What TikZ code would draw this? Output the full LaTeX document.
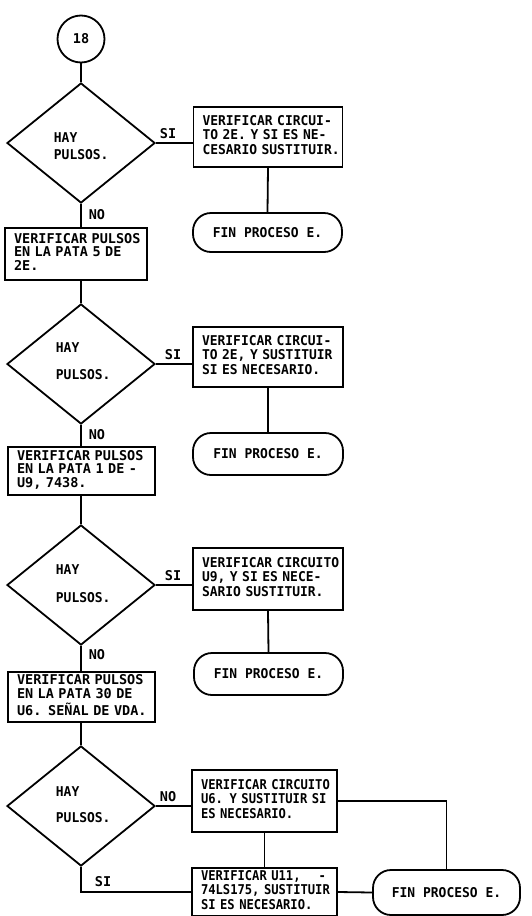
\documentclass[tikz,border=0pt]{standalone}
\usepackage{fontspec}
\newfontfamily\plotfont{DejaVu Sans Mono}
\newfontfamily\plotmid{DejaVu Sans Mono}[FakeStretch=0.96]
\newfontfamily\plotnarrow{DejaVu Sans Mono}[FakeStretch=0.9]
\usetikzlibrary{shapes.geometric}
% lines of a box text, never wrapped
\newcommand\boxlines[1]{\begin{tabular}{@{}l@{}}#1\end{tabular}}
\begin{document}
\begin{tikzpicture}[x=1pt,y=-1pt,line width=1.8pt,
  txt/.style={font=\plotfont\bfseries\fontsize{13.5}{13.5}\selectfont},
  mid/.style={font=\plotmid\bfseries\fontsize{13.5}{13.5}\selectfont},
  narrow/.style={font=\plotnarrow\bfseries\fontsize{13.5}{13.5}\selectfont},
  box/.style={txt,draw,rectangle,inner xsep=9pt,inner ysep=0pt,align=left},
  term/.style={mid,draw,rectangle,rounded corners=18pt,inner sep=0pt},
  dec/.style={draw,diamond,inner sep=0pt,minimum width=148pt,minimum height=120pt},
  dectext/.style={mid,inner sep=0pt,anchor=west,align=left},
  conn/.style={txt,draw,circle,inner sep=0pt,minimum size=47pt},
  tag/.style={txt,inner sep=0pt}]
\useasboundingbox (0,0) rectangle (532,916);

% start connector
\node[conn] (c18) at (81,39) {18};

% first test
\node[dec] (d1) at (81,143) {};
\node[dectext] (d1t) at (53,146.5) {HAY\\[3.5pt]PULSOS.};
\node[box,mid,text width=131pt,minimum height=60pt] (r1) at (268,137)
  {\boxlines{VERIFICAR CIRCUI-\\TO 2E. Y SI ES NE-\\CESARIO SUSTITUIR.}};
\node[term,minimum width=149pt,minimum height=39pt] (t1) at (267.5,232.5) {FIN PROCESO E.};
\node[box,text width=124pt,minimum height=52pt] (l1) at (76,254)
  {\boxlines{VERIFICAR PULSOS\\EN LA PATA 5 DE\\2E.}};
\node[tag] (si1) at (168,134) {SI};
\node[tag] (no1) at (97,215) {NO};

% second test
\node[dec] (d2) at (81,364) {};
\node[dectext] (d2t) at (55,361.5) {HAY\\[13.5pt]PULSOS.};
\node[box,mid,text width=132pt,minimum height=60pt] (r2) at (268,357)
  {\boxlines{VERIFICAR CIRCUI-\\TO 2E, Y SUSTITUIR\\SI ES NECESARIO.}};
\node[term,minimum width=150pt,minimum height=42pt] (t2) at (268,454) {FIN PROCESO E.};
\node[box,text width=129pt,minimum height=48pt] (l2) at (81.5,471)
  {\boxlines{VERIFICAR PULSOS\\EN LA PATA 1 DE -\\U9, 7438.}};
\node[tag] (si2) at (173,355) {SI};
\node[tag] (no2) at (97,435) {NO};

% third test
\node[dec] (d3) at (81,585) {};
\node[dectext] (d3t) at (55,584) {HAY\\[14.5pt]PULSOS.};
\node[box,mid,text width=132pt,minimum height=62pt] (r3) at (268,579)
  {\boxlines{VERIFICAR CIRCUITO\\U9, Y SI ES NECE-\\SARIO SUSTITUIR.}};
\node[term,minimum width=149pt,minimum height=42pt] (t3) at (268.5,674) {FIN PROCESO E.};
\node[box,text width=129pt,minimum height=50pt] (l3) at (81.5,697)
  {\boxlines{VERIFICAR PULSOS\\EN LA PATA 30 DE\\U6. SEÑAL DE VDA.}};
\node[tag] (si3) at (173,576) {SI};
\node[tag] (no3) at (97,655) {NO};

% fourth test
\node[dec] (d4) at (81,806) {};
\node[dectext] (d4t) at (55,805) {HAY\\[12.5pt]PULSOS.};
\node[box,narrow,text width=127pt,minimum height=62pt] (r4) at (264.5,801)
  {\boxlines{VERIFICAR CIRCUITO\\U6. Y SUSTITUIR SI\\ES NECESARIO.}};
\node[box,narrow,text width=127pt,minimum height=48pt] (r5) at (264.5,892)
  {\boxlines{VERIFICAR U11, \ \ \ -\\74LS175, SUSTITUIR\\SI ES NECESARIO.}};
\node[term,minimum width=147pt,minimum height=45pt] (t4) at (446.5,892.5) {FIN PROCESO E.};
\node[tag] (no4) at (168,797) {NO};
\node[tag] (si4) at (103,882) {SI};

% connectors
\draw (c18) -- (d1.north);
\draw (d1.east) -- (d1.east -| r1.west);
\draw (r1.south) -- (t1.north);
\draw (d1.south) -- (d1.south |- l1.north);
\draw (l1.south -| d2.north) -- (d2.north);
\draw (d2.east) -- (d2.east -| r2.west);
\draw (r2.south) -- (t2.north);
\draw (d2.south) -- (d2.south |- l2.north);
\draw (l2.south -| d3.north) -- (d3.north);
\draw (d3.east) -- (d3.east -| r3.west);
\draw (r3.south) -- (t3.north);
\draw (d3.south) -- (d3.south |- l3.north);
\draw (l3.south -| d4.north) -- (d4.north);
\draw (d4.east) -- (d4.east -| r4.west);
\draw (r4.south) -- (r5.north);
\draw (r4.east) -| (t4.north);
\draw (d4.south) |- (r5.west);
\draw (r5.east) -- (t4.west);
\end{tikzpicture}
\end{document}
